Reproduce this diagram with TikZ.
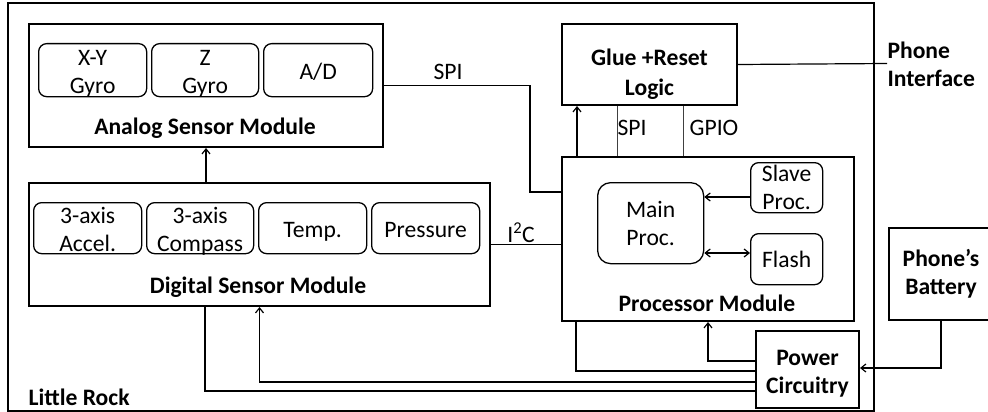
\documentclass[tikz,border=0pt]{standalone}
\usepackage{fontspec}
\setmainfont{Carlito}
\usetikzlibrary{positioning,calc,arrows.meta}

\newcommand{\lrfont}{\fontsize{23.6}{28}\selectfont}

\tikzset{
  modbox/.style={draw, line width=2pt, anchor=north west, inner sep=0pt},
  part/.style={draw, line width=1.3pt, rounded corners=8pt, anchor=north west, align=center, inner sep=0pt},
  textlines/.style={align=center, inner sep=0pt, execute at begin node=\strut, execute at end node=\strut},
  tag/.style={label={[textlines, yshift=-5.5pt]center:#1}},
  tagone/.style={label={[textlines, yshift=-4pt]center:#1}},
  boldtag/.style={label={[textlines, font=\lrfont\bfseries, yshift=-7pt]center:#1}},
  lbl/.style={font=\lrfont\bfseries},
  wire/.style={line width=1.2pt},
  thinwire/.style={line width=0.8pt, black!75},
}

\begin{document}
\begin{tikzpicture}[x=1pt, y=-1pt, font=\lrfont, >={Straight Barb[length=5pt,width=8pt]}]
  \useasboundingbox (0,0) rectangle (988,412);

  % outer board
  \node[modbox, line width=2.4pt, minimum width=866pt, minimum height=408pt] (rock) at (7,2) {};
  \node[lbl, anchor=west] (rockname) at (25,397) {Little Rock};

  % analog sensors
  \node[modbox, minimum width=354pt, minimum height=123pt] (analog) at (28,23) {};
  \node[part, tag={X-Y\\Gyro}, minimum width=108pt, minimum height=53pt] (xygyro) at (38,43) {};
  \node[part, tag={Z\\Gyro}, minimum width=107pt, minimum height=53pt] (zgyro) at (151,43) {};
  \node[part, tagone={A/D}, minimum width=109pt, minimum height=53pt] (ad) at (263,43) {};
  \node[lbl] (analogname) at (205,128) {Analog Sensor Module};

  % digital sensors
  \node[modbox, minimum width=461pt, minimum height=123pt] (digital) at (28,182) {};
  \node[part, tag={3-axis\\Accel.}, minimum width=108pt, minimum height=51pt] (accel) at (33,202) {};
  \node[part, tag={3-axis\\Compass}, minimum width=107pt, minimum height=51pt] (compass) at (146,202) {};
  \node[part, tagone={Temp.}, minimum width=108pt, minimum height=51pt] (temp) at (258,202) {};
  \node[part, tagone={Pressure}, minimum width=108pt, minimum height=51pt] (pressure) at (371,202) {};
  \node[lbl] (digitalname) at (258,287) {Digital Sensor Module};

  % glue logic and processor
  \node[modbox, minimum width=175pt, minimum height=81pt,
        label={[textlines, font=\fontsize{23.6}{30}\selectfont\bfseries, yshift=-12pt]center:Glue +Reset\\Logic}] (glue) at (561,23) {};
  \node[modbox, minimum width=292pt, minimum height=164pt] (proc) at (561,156) {};
  \node[part, rounded corners=13pt, minimum width=106pt, minimum height=81pt] (mainproc) at (597,182) {Main\\Proc.};
  \node[part, minimum width=72pt, minimum height=50pt] (slave) at (750,162) {Slave\\Proc.};
  \node[part, minimum width=72pt, minimum height=51pt] (flash) at (750,233) {Flash};
  \node[lbl] (procname) at (707,303) {Processor Module};

  % power
  \node[modbox, boldtag={Power\\Circuitry}, minimum width=103pt, minimum height=77pt] (power) at (755,330) {};
  \node[modbox, lbl, align=center, minimum width=104pt, minimum height=92pt] (battery) at (888,227) {Phone’s\\Battery};
  \node[lbl, anchor=west, align=left] (phone) at (884,64) {Phone\\Interface};

  % bus labels
  \node (spia) at (448,72) {SPI};
  \node (itwoc) at (521,233) {I\textsuperscript{2}C};
  \node (spib) at (632,128) {SPI};
  \node (gpio) at (714,128) {GPIO};

  % connections
  \draw[wire,->] (analog.south |- digital.north) -- (analog.south);
  \draw[wire] (analog.east) -| (530,192) -- (proc.west |- 0,192);
  \draw[wire] (digital.east) -- (proc.west |- digital.east);
  \draw[wire,->] (proc.north -| 577,0) -- (glue.south -| 577,0);
  \draw[thinwire] (proc.north -| 617,0) -- (glue.south -| 617,0);
  \draw[thinwire] (proc.north -| 683,0) -- (glue.south -| 683,0);
  \draw[wire] (glue.east) -- (887,63.5);
  \draw[wire,->] (slave.west |- 0,197) -- (mainproc.east |- 0,197);
  \draw[wire,<->] (mainproc.east |- 0,253) -- (flash.west |- 0,253);
  \draw[wire,->] (battery.south) |- (power.east |- 0,368);
  \draw[wire,->] (power.west |- 0,361) -| (proc.south);
  \draw[wire] (power.west |- 0,371) -| (proc.south -| 576,0);
  \draw[wire,->] (power.west |- 0,382) -| (digital.south);
  \draw[wire] (power.west |- 0,391) -| (digital.south -| 205,0);
\end{tikzpicture}
\end{document}
